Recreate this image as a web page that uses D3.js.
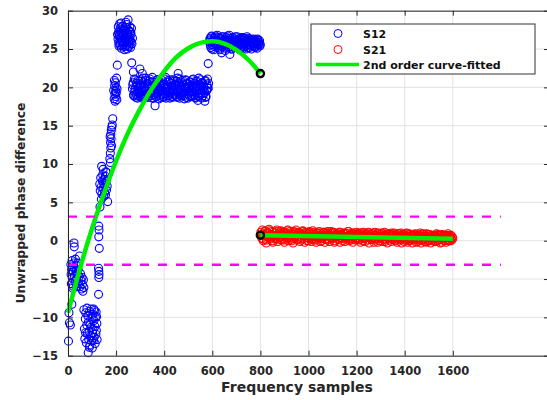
<!DOCTYPE html>
<html>
<head>
<meta charset="utf-8">
<script src="https://cdn.jsdelivr.net/npm/d3@7"></script>
<style>
  body { margin: 0; background: #fff; }
  svg { display: block; font-family: "DejaVu Sans", sans-serif; font-weight: bold; }
</style>
</head>
<body>
<svg id="chart" width="547" height="400"></svg>
<script>
// tick values
const xTicks = [0, 200, 400, 600, 800, 1000, 1200, 1400, 1600]
const yTicks = [-15, -10, -5, 0, 5, 10, 15, 20, 25, 30]

// S12 scattered clusters, [sample, phase]
const s12Low = [
  [4, -9.4], [6, -10.7], [10, -11.0], [2, -13.1], [16, -8.3],
  [12, -3.1], [13, -4.4], [14, -5.6], [15, -3.8], [17, -2.6], [18, -4.9], [19, -3.4], [21, -5.9],
  [22, -4.1], [24, -2.9], [25, -0.3], [26, -0.8], [27, -4.6], [28, -3.6], [30, -5.3], [31, -2.4],
  [33, -4.0], [35, -3.2], [36, -5.0], [38, -4.4], [40, -2.9], [42, -3.8], [44, -5.6], [46, -4.7],
  [48, -2.0], [50, -6.0], [52, -4.3], [54, -5.2], [56, -6.3], [58, -4.8], [60, -5.7], [62, -6.6],
  [64, -5.1], [66, -6.1], [20, -6.2], [34, -6.0],
  [66, -9.0], [68, -11.5], [70, -12.8], [72, -10.2], [74, -9.4], [76, -13.3], [78, -11.0], [80, -12.1],
  [82, -9.8], [84, -14.6], [85, -10.6], [86, -12.9], [88, -11.8], [90, -9.2], [91, -13.6], [92, -10.9],
  [94, -12.4], [96, -11.3], [97, -8.9], [98, -13.1], [100, -10.1], [102, -12.0], [103, -9.6], [104, -11.6],
  [106, -13.0], [108, -10.4], [109, -12.6], [110, -9.1], [112, -11.2], [113, -13.4], [114, -10.0], [116, -12.2],
  [117, -9.3], [118, -11.7], [120, -10.8], [121, -12.9], [79, -8.8], [89, -13.9], [101, -14.0], [107, -8.9],
  [119, -9.9], [73, -12.0],
  [133, 4.4], [128, 1.9], [129, 1.4], [128, 0.5], [130, -1.0], [127, -3.6], [128, -4.0], [129, -4.4],
  [128, -4.8], [127, -7.0]
]

const s12Rise = [
  [132, 7.4], [134, 6.5], [136, 8.2], [138, 7.0], [140, 9.7], [141, 6.1], [143, 7.8], [144, 8.6],
  [146, 6.8], [148, 7.5], [149, 5.8], [150, 8.0], [152, 6.3], [153, 7.2], [155, 8.4], [156, 6.0],
  [158, 7.7], [160, 6.6], [161, 8.9], [163, 7.1], [165, 5.1], [146, 9.3], [139, 5.4], [157, 9.0],
  [174, 10.7], [176, 11.4], [178, 12.1], [177, 12.8], [179, 13.3], [178, 13.9], [180, 14.4], [182, 14.8],
  [184, 15.1], [186, 15.9], [175, 13.6], [181, 12.4], [176, 10.2],
  [190, 19.6], [192, 18.5], [194, 20.2], [195, 19.1], [196, 18.2], [197, 20.6], [198, 19.5], [199, 18.8],
  [200, 20.0], [201, 19.3], [202, 21.2], [203, 18.4], [204, 19.8], [205, 22.9], [193, 20.9],
  [208, 26.3], [210, 27.2], [212, 25.4], [214, 26.8], [216, 27.6], [218, 25.9], [220, 26.5], [222, 25.1],
  [224, 27.0], [226, 26.1], [228, 28.0], [230, 25.6], [232, 26.9], [234, 27.4], [236, 25.3], [238, 26.4],
  [240, 27.8], [242, 25.8], [244, 26.6], [246, 25.0], [248, 27.1], [250, 28.8], [252, 26.0], [254, 25.5],
  [256, 27.3], [258, 26.2], [260, 25.2], [262, 26.9], [264, 27.7], [266, 25.7], [268, 26.4], [215, 28.3],
  [245, 28.2], [235, 24.9], [225, 27.9],
  [209, 27.9], [211, 25.8], [213, 26.6], [217, 25.5], [219, 27.3], [221, 28.4], [223, 26.0], [227, 25.4],
  [229, 26.8], [231, 27.5], [233, 25.9], [237, 27.0], [239, 26.2], [241, 28.5], [243, 25.5], [247, 26.9],
  [249, 26.3], [251, 27.5], [253, 25.3], [255, 26.6], [257, 27.9], [259, 26.0], [261, 27.2], [263, 25.9],
  [212, 27.0], [206, 26.9],
  [265, 23.2], [299, 22.4], [309, 21.8], [272, 22.0],
  [362, 17.6], [458, 21.8], [569, 18.2], [583, 23.1], [540, 18.3], [639, 24.5], [673, 24.3]
]

// S12 dense bands: one value every few samples, two passes
const s12MidStart = 268
const s12MidStep = 3
const s12MidY = [
  19.8, 20.6, 18.9, 19.4, 21.0, 19.1, 20.2, 18.6, 19.9, 20.8, 19.3, 18.8, 20.4, 19.6, 21.2, 19.0, 20.1, 18.7, 19.7, 20.9,
  19.2, 20.5, 18.9, 19.8, 21.1, 19.4, 20.0, 18.6, 20.7, 19.5, 19.1, 20.3, 18.8, 19.9, 21.0, 19.3, 20.6, 18.5, 19.7, 20.2,
  19.0, 20.9, 19.6, 18.7, 20.4, 19.2, 21.3, 19.8, 18.9, 20.1, 19.5, 20.7, 18.6, 19.3, 20.5, 19.9, 18.8, 21.0, 19.4, 20.2,
  19.1, 20.8, 18.7, 19.6, 20.3, 19.0, 21.1, 19.7, 18.9, 20.6, 19.3, 20.0, 18.5, 19.8, 20.9, 19.2, 20.4, 18.6, 19.9, 20.7,
  19.4, 20.2, 18.8, 21.0, 19.6, 20.5, 19.0, 18.7, 20.8, 19.5, 20.1, 18.9, 21.2, 19.7, 20.3, 19.1, 18.6, 20.6, 19.8, 20.0,
  19.3, 20.9, 18.8, 19.6, 21.1, 19.9
]
const s12MidStart2 = 269.5
const s12MidY2 = [
  20.3, 19.0, 21.1, 19.7, 18.7, 20.5, 19.4, 20.9, 18.9, 19.6, 20.2, 21.0, 19.1, 18.6, 20.6, 19.8, 20.0, 18.8, 21.2, 19.5,
  20.4, 18.7, 19.9, 20.8, 19.2, 18.9, 20.1, 21.3, 19.6, 18.6, 20.7, 19.3, 20.0, 18.8, 19.8, 21.0, 19.4, 20.5, 18.7, 19.9,
  20.6, 19.1, 18.8, 20.3, 21.1, 19.5, 18.6, 20.0, 19.7, 20.9, 18.9, 19.4, 21.0, 19.8, 20.2, 18.7, 19.6, 20.8, 19.0, 20.4,
  18.8, 19.9, 21.2, 19.3, 20.6, 18.6, 19.7, 20.1, 19.2, 20.9, 18.9, 20.3, 19.5, 21.0, 18.7, 19.8, 20.5, 19.1, 20.0, 18.8,
  20.7, 19.6, 18.9, 20.2, 21.1, 19.4, 20.0, 18.6, 19.9, 20.8, 19.2, 18.8, 20.4, 19.7, 21.0, 19.3, 20.6, 18.9, 20.1, 19.5,
  20.8, 18.7, 19.6, 20.3, 19.9, 20.5
]

const s12TopStart = 588
const s12TopStep = 3
const s12TopY = [
  25.9, 26.4, 25.2, 26.7, 25.6, 26.1, 24.9, 26.5, 25.8, 26.2, 25.4, 26.8, 25.7, 26.0, 25.1, 26.4, 25.9, 26.6, 25.3, 26.1,
  25.6, 26.3, 24.8, 26.0, 25.5, 26.7, 25.9, 25.2, 26.4, 25.7, 26.2, 25.0, 26.5, 25.8, 26.1, 25.4, 26.6, 25.6, 26.0, 25.3,
  26.3, 25.9, 24.9, 26.2, 25.5, 26.5, 25.8, 25.1, 26.4, 25.7, 26.0, 25.4, 26.6, 25.9, 25.2, 26.1, 25.6, 26.3, 25.0, 25.8,
  26.2, 25.5, 26.0, 25.3, 26.1, 25.7, 25.1, 26.2, 25.6, 25.9, 25.4
]
const s12TopStart2 = 589.5
const s12TopY2 = [
  26.2, 25.5, 26.6, 25.0, 26.0, 25.8, 26.4, 25.3, 26.7, 25.6, 26.1, 25.2, 26.5, 25.9, 24.9, 26.3, 25.7, 26.0, 25.4, 26.6,
  25.8, 26.2, 25.1, 26.5, 25.7, 26.0, 25.3, 26.8, 25.6, 26.1, 25.0, 26.4, 25.9, 25.5, 26.3, 25.2, 26.0, 25.8, 26.6, 25.4,
  26.1, 25.6, 26.4, 25.1, 26.2, 25.7, 26.5, 25.3, 25.9, 26.3, 25.0, 26.1, 25.6, 26.4, 25.8, 25.2, 26.2, 25.5, 26.0, 25.7,
  25.4, 26.3, 25.9, 25.2, 26.0, 25.6, 26.3, 25.5, 25.8, 26.1, 25.6
]

// S21, two passes
const s21Start = 802
const s21Start2 = 804
const s21Step = 4
const s21Y = [
  1.1, 0.3, 0.9, 0.2, 1.2, 0.6, 0.1, 1.0, 0.5, 1.3, 0.4, 0.8, 0.0, 1.1, 0.6, 0.3, 1.2, 0.7, 0.2, 1.0,
  0.5, 1.2, 0.3, 0.9, 0.1, 1.1, 0.6, 0.2, 1.4, 0.7, 0.4, 1.0, 0.0, 0.8, 1.2, 0.3, 0.6, 1.1, 0.2, 0.9,
  0.5, 1.0, 0.1, 0.8, 1.2, 0.3, 0.7, 1.0, 0.0, 0.6, 1.1, 0.4, 0.9, 0.2, 1.3, 0.5, 0.8, 0.1, 1.0, 0.6,
  0.3, 1.0, 0.5, 0.0, 0.9, 0.6, 1.1, 0.2, 0.7, 1.0, 0.1, 0.8, 0.4, 1.2, 0.3, 0.6, 1.0, 0.0, 0.7, 0.5,
  0.9, 0.2, 1.1, 0.4, 0.7, 0.0, 0.9, 0.5, 1.0, 0.2, 0.6, 1.2, 0.3, 0.8, 0.1, 0.9, 0.4, 1.0, 0.2, 0.7,
  0.4, 0.9, 0.1, 0.8, 0.5, 1.0, 0.0, 0.7, 0.3, 0.9, 0.6, 0.1, 1.1, 0.4, 0.8, 0.2, 0.6, 1.0, 0.1, 0.7,
  0.3, 0.9, 0.5, 0.0, 0.8, 0.4, 1.0, 0.2, 0.7, -0.1, 0.6, 0.9, 0.3, 0.8, 0.1, 0.5, 1.0, 0.2, 0.7, 0.4,
  0.0, 0.8, 0.3, 0.6, 0.9, 0.1, 0.7, 0.4, 0.8, -0.1, 0.5, 0.9, 0.2, 0.6, 0.0, 0.8, 0.3, 0.7, 0.1, 0.5,
  0.8, 0.2, 0.6, -0.1, 0.7, 0.3, 0.8, 0.0, 0.5, 0.9, 0.2, 0.6, -0.2, 0.4, 0.8, 0.1, 0.5, 0.7, 0.0, 0.6,
  0.3, 0.7, -0.1, 0.5, 0.8, 0.1, 0.4, 0.7, -0.2, 0.3, 0.6, 0.0, 0.5, 0.7, 0.1, 0.4, 0.6, 0.0, 0.3, 0.5
]
const s21Y2 = [
  0.7, 1.4, 0.0, 0.8, 1.3, -0.3, 0.9, 0.4, 1.5, 0.2, 0.7, 1.2, -0.2, 0.6, 1.0, 0.3, 1.4, -0.1, 0.8, 0.5,
  1.3, 0.1, 0.7, 1.1, -0.2, 0.9, 0.4, 1.3, 0.0, 0.6, 1.2, 0.2, 0.8, -0.3, 1.0, 0.5, 1.4, 0.1, 0.7, 1.1,
  -0.1, 0.8, 0.3, 1.3, 0.6, -0.2, 1.1, 0.4, 0.9, 0.0, 1.2, 0.6, -0.1, 0.8, 0.3, 1.1, 0.5, -0.2, 1.0, 0.4,
  1.2, -0.1, 0.7, 0.3, 1.1, 0.5, -0.2, 0.9, 0.2, 1.2, 0.6, -0.1, 1.0, 0.4, 0.7, 1.1, -0.2, 0.5, 0.9, 0.2,
  0.6, 1.1, -0.2, 0.8, 0.3, 1.0, 0.5, -0.1, 0.9, 0.4, 1.2, 0.0, 0.7, 0.3, 1.0, -0.2, 0.6, 0.8, 0.1, 1.1,
  0.2, 0.8, 1.0, -0.2, 0.6, 0.3, 1.1, 0.4, -0.1, 0.8, 0.5, 1.0, -0.3, 0.6, 0.2, 0.9, 0.4, -0.2, 1.1, 0.3,
  0.7, -0.2, 1.0, 0.3, 0.6, 0.9, -0.1, 0.5, 1.1, 0.2, 0.8, -0.3, 0.4, 0.9, 0.6, -0.1, 0.8, 0.3, 1.0, 0.1,
  0.6, -0.2, 0.9, 0.4, 0.2, 1.0, -0.3, 0.5, 0.8, 0.2, 0.6, 1.0, -0.2, 0.4, 0.9, 0.1, 0.6, -0.3, 0.7, 0.3,
  0.9, -0.2, 0.4, 0.7, 0.1, 1.0, -0.3, 0.5, 0.2, 0.8, -0.1, 0.6, 0.9, 0.0, 0.4, 0.8, -0.3, 0.5, 0.2, 0.7,
  -0.1, 0.6, 0.9, 0.0, 0.4, 0.7, -0.3, 0.5, 0.8, 0.1, 0.3, 0.7, -0.2, 0.5, 0.9, 0.0, 0.4, 0.7, 0.1, 0.3
]

// fitted curves
const fit12 = [
  [0, -9.4], [50, -3.6], [100, 1.6], [150, 6.2], [200, 10.4], [250, 14.1], [300, 17.2], [350, 19.9],
  [400, 22.1], [450, 23.9], [500, 25.1], [550, 25.8], [600, 26.0], [650, 25.7], [700, 24.9], [750, 23.6], [800, 21.8]
]
const fit21 = [[800, 0.72], [1200, 0.48], [1600, 0.25]]
const fitEnds = [[800, 21.8], [800, 0.72]]

const piLevels = [Math.PI, -Math.PI]
const piSpan = [0, 1800]

const legendItems = ['S12', 'S21', '2nd order curve-fitted']

const svg = d3.select('#chart')
const margin = { top: 10.7, left: 68 }
const plotRight = 549
const plotBottom = 355.7

const x = d3.scaleLinear().domain([0, 2000]).range([margin.left, plotRight])
const y = d3.scaleLinear().domain([-15, 30]).range([plotBottom, margin.top])

const ink = '#262626'
const markR = 4
const markW = 1.1

// grid
svg.append('g')
  .selectAll('line').data(xTicks).join('line')
  .attr('x1', (d) => x(d)).attr('x2', (d) => x(d))
  .attr('y1', margin.top).attr('y2', plotBottom)
  .attr('stroke', '#e3e3e3').attr('stroke-width', 1)
svg.append('g')
  .selectAll('line').data(yTicks).join('line')
  .attr('y1', (d) => y(d)).attr('y2', (d) => y(d))
  .attr('x1', margin.left).attr('x2', plotRight)
  .attr('stroke', '#e3e3e3').attr('stroke-width', 1)

// points
const bandPts = (start, step, ys) => ys.map((v, i) => [start + i * step, v])
const s12 = s12Low.concat(
  s12Rise,
  bandPts(s12MidStart, s12MidStep, s12MidY),
  bandPts(s12MidStart2, s12MidStep, s12MidY2),
  bandPts(s12TopStart, s12TopStep, s12TopY),
  bandPts(s12TopStart2, s12TopStep, s12TopY2),
)
const s21 = bandPts(s21Start, s21Step, s21Y).concat(bandPts(s21Start2, s21Step, s21Y2))

svg.append('g')
  .selectAll('circle').data(s12).join('circle')
  .attr('cx', (d) => x(d[0])).attr('cy', (d) => y(d[1])).attr('r', markR)
  .attr('fill', 'none').attr('stroke', '#0000ff').attr('stroke-width', markW)

svg.append('g')
  .selectAll('circle').data(s21).join('circle')
  .attr('cx', (d) => x(d[0])).attr('cy', (d) => y(d[1])).attr('r', markR)
  .attr('fill', 'none').attr('stroke', '#ff0000').attr('stroke-width', markW)

// fits
const line = d3.line().x((d) => x(d[0])).y((d) => y(d[1])).curve(d3.curveMonotoneX)
svg.append('path').datum(fit12).attr('d', line)
  .attr('fill', 'none').attr('stroke', '#00ee00').attr('stroke-width', 4.5)
svg.append('path').datum(fit21).attr('d', line)
  .attr('fill', 'none').attr('stroke', '#00ee00').attr('stroke-width', 4.5)

svg.append('g')
  .selectAll('circle').data(fitEnds).join('circle')
  .attr('cx', (d) => x(d[0])).attr('cy', (d) => y(d[1])).attr('r', 3.6)
  .attr('fill', 'none').attr('stroke', '#000').attr('stroke-width', 2.4)

// +/- pi
svg.append('g')
  .selectAll('line').data(piLevels).join('line')
  .attr('x1', x(piSpan[0])).attr('x2', x(piSpan[1]))
  .attr('y1', (d) => y(d)).attr('y2', (d) => y(d))
  .attr('stroke', '#ff00ff').attr('stroke-width', 2.4).attr('stroke-dasharray', '9,9')

// axes (inward ticks, boxed)
const fmt = d3.format('d')
const xAxisB = svg.append('g').attr('transform', `translate(0,${plotBottom})`)
  .call(d3.axisBottom(x).tickValues(xTicks).tickFormat(fmt).tickSizeInner(-5).tickSizeOuter(0).tickPadding(11))
const xAxisT = svg.append('g').attr('transform', `translate(0,${margin.top})`)
  .call(d3.axisTop(x).tickValues(xTicks).tickSizeInner(-5).tickSizeOuter(0).tickFormat(''))
const yAxisL = svg.append('g').attr('transform', `translate(${margin.left},0)`)
  .call(d3.axisLeft(y).tickValues(yTicks).tickFormat(fmt).tickSizeInner(-5).tickSizeOuter(0).tickPadding(10))
const yAxisR = svg.append('g').attr('transform', `translate(${plotRight},0)`)
  .call(d3.axisRight(y).tickValues(yTicks).tickSizeInner(-5).tickSizeOuter(0).tickFormat(''))

for (const a of [xAxisB, xAxisT, yAxisL, yAxisR]) {
  a.select('.domain').attr('stroke', ink)
  a.selectAll('.tick line').attr('stroke', ink)
  a.selectAll('text').attr('fill', ink).attr('font-size', 11.5)
    .attr('font-family', '"DejaVu Sans", sans-serif').attr('font-weight', 'bold')
}

// labels
svg.append('text').text('Frequency samples')
  .attr('x', 297).attr('y', 392).attr('text-anchor', 'middle')
  .attr('font-size', 14).attr('fill', ink)
svg.append('text').text('Unwrapped phase difference')
  .attr('transform', 'translate(24.5,203) rotate(-90)').attr('text-anchor', 'middle')
  .attr('font-size', 12.4).attr('fill', ink)

// legend
const lg = svg.append('g').attr('transform', 'translate(311,24)')
lg.append('rect').attr('width', 224).attr('height', 50)
  .attr('fill', '#fff').attr('stroke', '#333').attr('stroke-width', 1)
lg.append('circle').attr('cx', 27).attr('cy', 9.5).attr('r', markR)
  .attr('fill', 'none').attr('stroke', '#0000ff')
lg.append('circle').attr('cx', 27).attr('cy', 25.5).attr('r', markR)
  .attr('fill', 'none').attr('stroke', '#ff0000')
lg.append('line').attr('x1', 5).attr('x2', 48).attr('y1', 40.5).attr('y2', 40.5)
  .attr('stroke', '#00ee00').attr('stroke-width', 3.5)
lg.selectAll('text').data(legendItems).join('text')
  .text((d) => d)
  .attr('x', 52).attr('y', (d, i) => 14 + i * 15.5)
  .attr('font-size', 11).attr('fill', '#111')
</script>
</body>
</html>
